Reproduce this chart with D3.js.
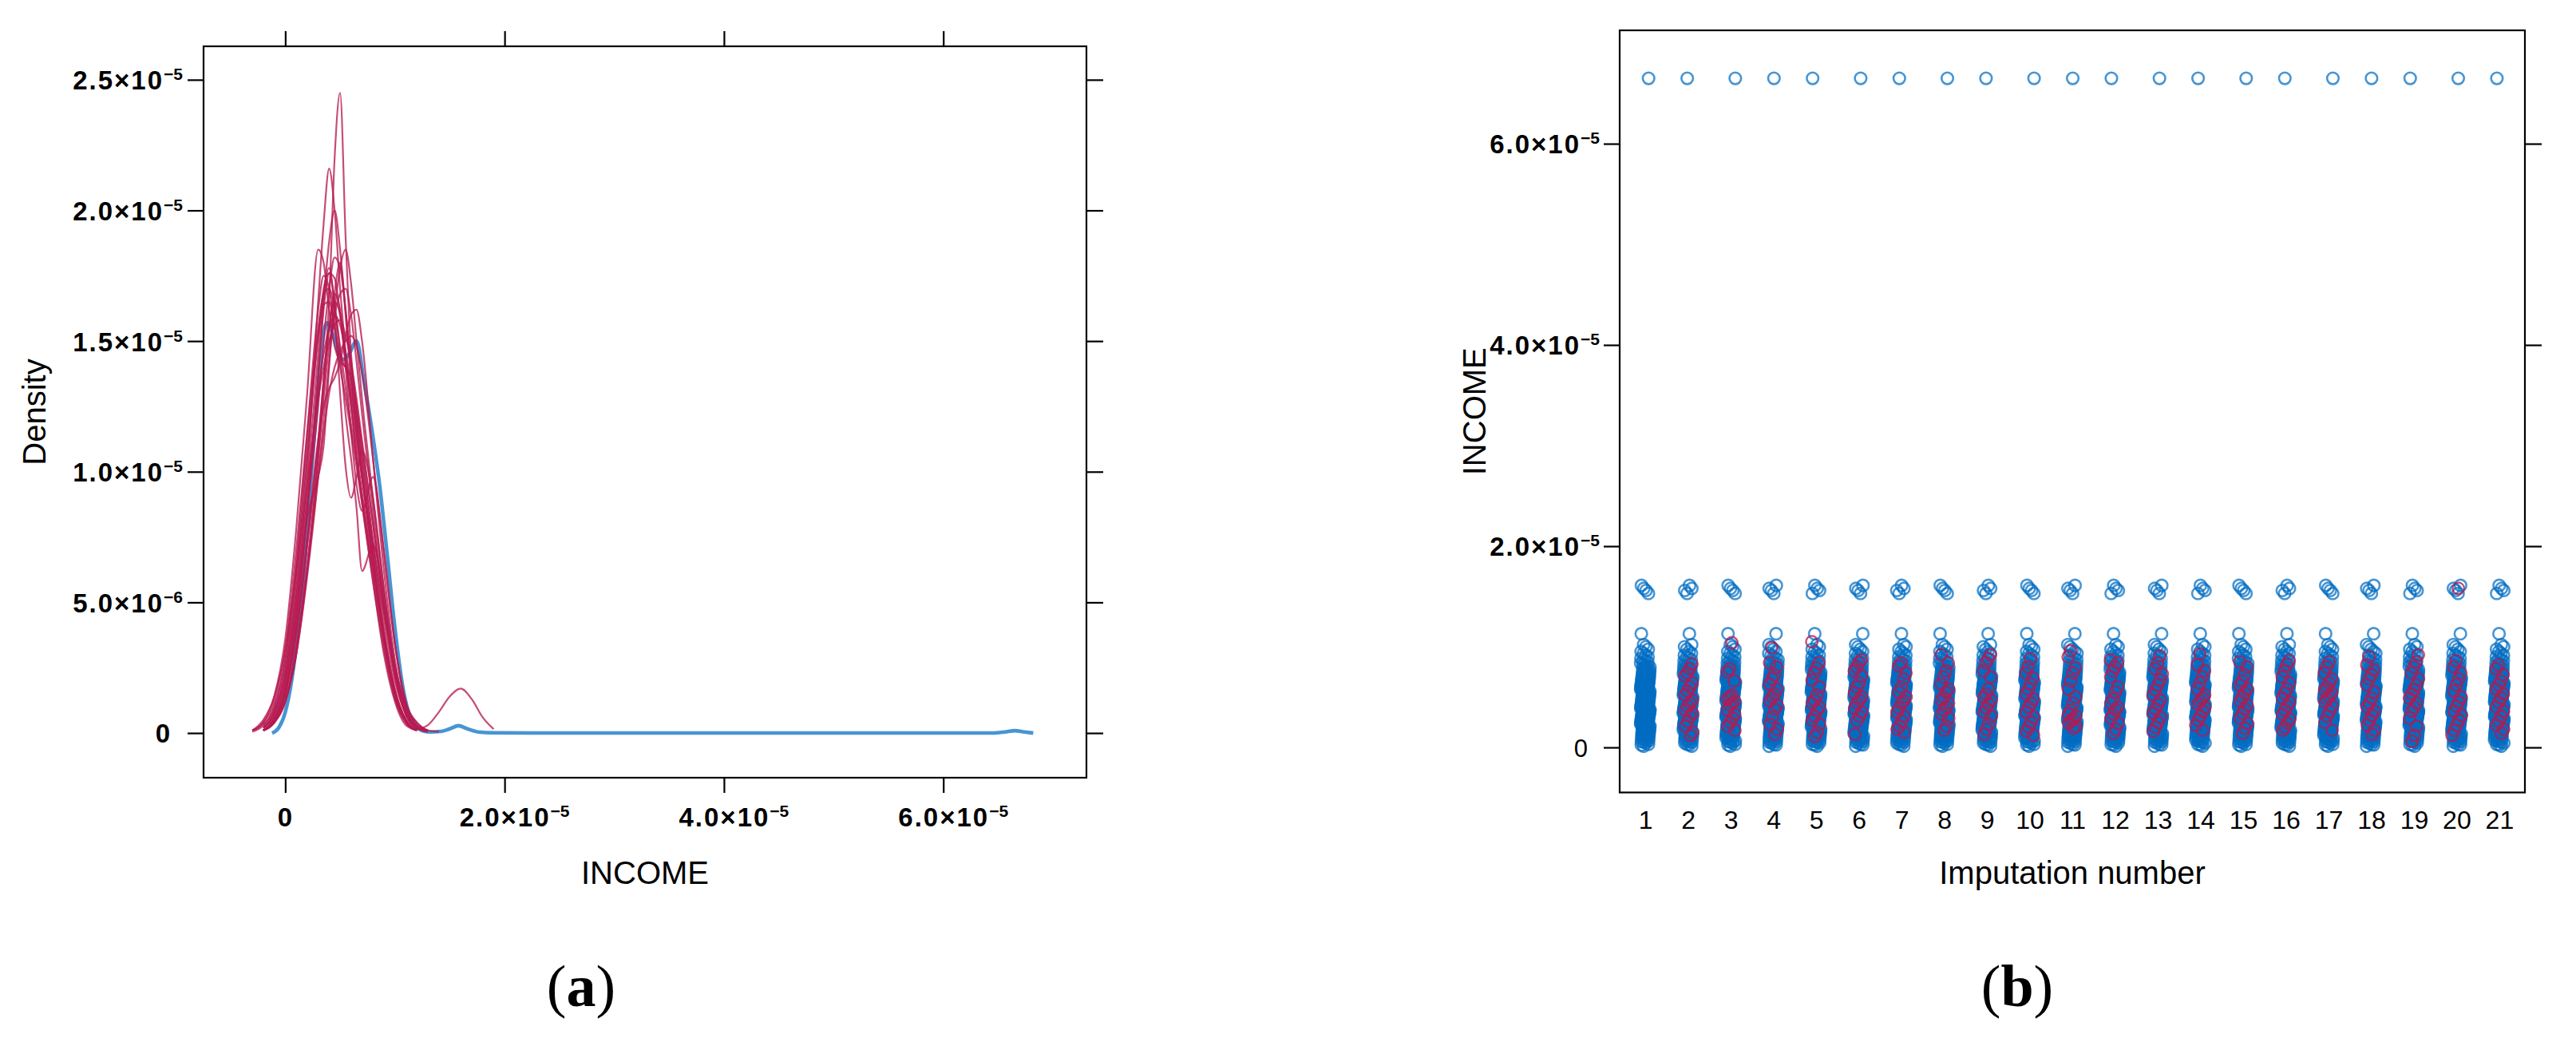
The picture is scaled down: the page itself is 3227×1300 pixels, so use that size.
<!DOCTYPE html>
<html>
<head>
<meta charset="utf-8">
<script src="https://cdn.jsdelivr.net/npm/d3@7"></script>
<style>
  body { margin: 0; background: #fff; }
  svg { display: block; }
</style>
</head>
<body>
<svg id="chart" width="3227" height="1300"></svg>
<script>
// ---- data (income in units of the axis labels) ----
var densTicks = [0, 0.5, 1, 1.5, 2, 2.5];
var densTickLabels = ['0', '5.0×10^−6', '1.0×10^−5', '1.5×10^−5', '2.0×10^−5', '2.5×10^−5'];
var incomeTicks = [0, 2, 4, 6];
var incomeTickLabels = ['0', '2.0×10^−5', '4.0×10^−5', '6.0×10^−5'];
var imputations = d3.range(1, 22);

// observed density, [income, density]
var obsDensity = [[-0.12,0],[-0.06,0.02],[0,0.08],[0.05,0.18],[0.1,0.33],[0.15,0.52],[0.2,0.78],
  [0.25,1.06],[0.3,1.32],[0.34,1.5],[0.38,1.57],[0.43,1.53],[0.48,1.46],[0.53,1.43],[0.58,1.45],
  [0.65,1.5],[0.72,1.34],[0.79,1.16],[0.86,0.95],[0.93,0.68],[1.0,0.4],[1.07,0.18],[1.14,0.06],
  [1.22,0.015],[1.32,0.004],[1.42,0.006],[1.5,0.016],[1.58,0.028],[1.66,0.016],[1.76,0.004],
  [1.9,0.001],[2.4,0],[6.45,0],[6.56,0.004],[6.65,0.009],[6.74,0.004],[6.82,0]];

// imputed densities on a shared income grid (null = curve not drawn there)
var densGrid = [-0.3,-0.2,-0.1,0,0.1,0.2,0.3,0.35,0.4,0.45,0.5,0.55,0.6,0.65,0.7,0.8,0.9,1.0,1.1,1.2,1.3,1.4,1.5,1.6,1.7,1.8,1.9];
var impDensity = [
  [null,0.01,0.05,0.15,0.38,0.72,1.10,1.35,1.65,2.20,2.45,1.90,1.45,1.25,1.10,0.80,0.48,0.22,0.07,0.02],
  [null,0.02,0.08,0.24,0.55,1.00,1.65,1.95,2.16,2.00,1.70,1.45,1.25,1.05,0.88,0.58,0.30,0.12,0.03,0.01],
  [null,0.01,0.06,0.18,0.45,0.85,1.35,1.65,1.88,2.00,1.85,1.60,1.35,1.15,0.98,0.66,0.36,0.14,0.04,0.01],
  [0.01,0.04,0.14,0.36,0.78,1.30,1.85,1.80,1.62,1.48,1.42,1.40,1.30,1.15,0.98,0.65,0.36,0.15,0.05,0.01],
  [null,0.01,0.04,0.12,0.30,0.60,0.98,1.20,1.42,1.62,1.78,1.85,1.72,1.50,1.28,0.90,0.55,0.26,0.09,0.02,0.005],
  [null,0.02,0.07,0.20,0.48,0.85,1.25,1.50,1.70,1.82,1.78,1.62,1.42,1.22,1.02,0.68,0.38,0.16,0.05,0.01],
  [null,0.01,0.05,0.16,0.40,0.75,1.12,1.25,1.32,1.36,1.42,1.52,1.60,1.62,1.50,1.05,0.62,0.28,0.09,0.02,0.005],
  [null,0.02,0.08,0.24,0.58,1.05,1.52,1.70,1.76,1.65,1.45,1.22,1.05,0.86,0.62,0.72,0.52,0.24,0.08,0.02],
  [null,0.01,0.06,0.20,0.50,0.95,1.45,1.68,1.78,1.62,1.30,1.02,0.90,0.98,1.08,0.90,0.55,0.24,0.07,0.02],
  [null,0.01,0.05,0.15,0.38,0.72,1.12,1.35,1.55,1.65,1.60,1.40,1.15,0.95,0.85,0.98,0.70,0.34,0.11,0.03,0.01],
  [0.01,0.04,0.12,0.32,0.70,1.15,1.55,1.68,1.70,1.62,1.48,1.32,1.18,1.05,0.90,0.62,0.36,0.16,0.05,0.015,0.03,0.08,0.14,0.17,0.13,0.06,0.015],
  [0.005,0.03,0.10,0.28,0.65,1.15,1.62,1.75,1.70,1.55,1.40,1.28,1.15,1.02,0.88,0.58,0.32,0.13,0.04,0.01],
  [null,0.01,0.04,0.13,0.33,0.65,1.05,1.28,1.48,1.60,1.68,1.70,1.60,1.42,1.22,0.85,0.50,0.22,0.07,0.02],
  [null,0.02,0.08,0.22,0.52,0.90,1.30,1.45,1.55,1.60,1.56,1.46,1.34,1.20,1.05,0.74,0.44,0.20,0.07,0.02],
  [null,0.01,0.05,0.17,0.44,0.86,1.38,1.62,1.76,1.74,1.60,1.42,1.25,1.08,0.92,0.62,0.34,0.14,0.04,0.01],
  [null,0.01,0.04,0.12,0.32,0.62,0.98,1.15,1.30,1.40,1.46,1.50,1.52,1.48,1.38,1.05,0.68,0.34,0.12,0.03,0.01],
  [null,0.03,0.10,0.28,0.62,1.08,1.52,1.64,1.65,1.55,1.45,1.40,1.36,1.25,1.08,0.72,0.40,0.17,0.05,0.01],
  [0.01,0.05,0.14,0.32,0.62,0.95,1.28,1.40,1.50,1.56,1.58,1.52,1.42,1.28,1.12,0.80,0.48,0.24,0.10,0.04,0.01,0.005],
  [null,0.01,0.05,0.15,0.42,0.82,0.98,1.10,1.40,1.68,1.80,1.62,1.38,1.18,1.00,0.68,0.38,0.16,0.05,0.01],
  [null,0.01,0.04,0.12,0.30,0.62,1.05,1.32,1.55,1.68,1.62,1.45,1.28,1.12,0.98,0.72,0.46,0.25,0.11,0.04,0.01]
];

// observed incomes (shown in every imputation column)
var obsIncome = [0.012,0.025,0.031,0.044,0.052,0.058,0.067,0.073,0.081,0.088,0.094,0.102,0.108,0.113,
  0.119,0.126,0.131,0.137,0.142,0.148,0.153,0.158,0.163,0.167,0.172,0.177,0.181,0.186,0.19,0.195,0.199,
  0.203,0.207,0.211,0.215,0.219,0.223,0.226,0.23,0.234,0.237,0.241,0.244,0.248,0.251,0.255,0.258,0.262,
  0.265,0.268,0.272,0.275,0.278,0.281,0.284,0.287,0.29,0.293,0.296,0.299,0.302,0.305,0.308,0.311,0.313,
  0.316,0.319,0.322,0.324,0.327,0.33,0.332,0.335,0.338,0.341,0.343,0.346,0.349,0.352,0.354,0.357,0.36,
  0.363,0.365,0.368,0.371,0.374,0.377,0.379,0.382,0.385,0.388,0.391,0.394,0.397,0.4,0.403,0.406,0.409,
  0.412,0.416,0.419,0.422,0.426,0.429,0.433,0.437,0.44,0.444,0.448,0.452,0.456,0.46,0.464,0.469,0.473,
  0.477,0.482,0.486,0.49,0.495,0.499,0.503,0.507,0.511,0.515,0.519,0.523,0.527,0.531,0.535,0.539,0.543,
  0.547,0.551,0.555,0.559,0.563,0.567,0.571,0.575,0.579,0.583,0.587,0.59,0.594,0.598,0.601,0.605,0.608,
  0.612,0.615,0.619,0.622,0.626,0.629,0.633,0.636,0.64,0.643,0.647,0.65,0.654,0.657,0.661,0.665,0.668,
  0.672,0.676,0.68,0.684,0.688,0.693,0.697,0.702,0.707,0.712,0.717,0.722,0.728,0.734,0.74,0.746,0.752,
  0.759,0.766,0.773,0.781,0.789,0.797,0.806,0.815,0.825,0.835,0.846,0.858,0.871,0.885,0.9,0.916,0.934,
  0.953,0.975,1.0,1.022,1.13,1.53,1.56,1.58,1.61,6.65];

// imputed incomes, imputations 2..21
var impIncome = [
  [0.83,0.78,0.74,0.71,0.64,0.60,0.56,0.52,0.47,0.44,0.41,0.37,0.34,0.31,0.26,0.21,0.15,0.12],
  [1.04,0.78,0.75,0.66,0.52,0.50,0.48,0.46,0.44,0.42,0.37,0.33,0.29,0.25,0.21,0.17],
  [0.99,0.84,0.80,0.72,0.68,0.63,0.58,0.53,0.50,0.46,0.42,0.38,0.30,0.23,0.18,0.13],
  [1.05,0.84,0.79,0.74,0.67,0.60,0.52,0.47,0.44,0.40,0.37,0.31,0.27,0.23,0.15,0.11],
  [0.87,0.84,0.80,0.76,0.71,0.64,0.60,0.54,0.50,0.47,0.44,0.39,0.35,0.31,0.26,0.13],
  [0.84,0.81,0.74,0.68,0.60,0.55,0.50,0.46,0.44,0.39,0.35,0.31,0.26,0.21,0.18,0.15],
  [0.92,0.84,0.76,0.70,0.63,0.58,0.55,0.50,0.47,0.44,0.40,0.37,0.33,0.29,0.21,0.17],
  [0.92,0.88,0.84,0.76,0.70,0.58,0.53,0.50,0.47,0.43,0.39,0.35,0.31,0.23,0.18,0.13],
  [0.88,0.80,0.74,0.69,0.63,0.58,0.53,0.48,0.44,0.40,0.35,0.30,0.25,0.20,0.16,0.12],
  [0.96,0.90,0.79,0.74,0.66,0.58,0.50,0.44,0.37,0.33,0.31,0.28,0.26,0.24,0.21,0.19],
  [0.87,0.84,0.80,0.76,0.70,0.60,0.55,0.48,0.44,0.40,0.37,0.33,0.29,0.24,0.18,0.14],
  [0.91,0.84,0.78,0.73,0.67,0.62,0.57,0.52,0.47,0.43,0.38,0.34,0.30,0.25,0.20,0.16],
  [0.93,0.82,0.76,0.70,0.64,0.58,0.52,0.49,0.46,0.43,0.40,0.36,0.31,0.27,0.22,0.17],
  [0.85,0.80,0.72,0.66,0.62,0.58,0.54,0.50,0.46,0.42,0.38,0.34,0.29,0.24,0.19,0.14],
  [0.86,0.82,0.76,0.70,0.64,0.58,0.54,0.49,0.45,0.41,0.37,0.33,0.28,0.24,0.20,0.17],
  [0.85,0.80,0.74,0.68,0.64,0.60,0.57,0.54,0.51,0.48,0.45,0.41,0.36,0.31,0.25,0.17],
  [0.90,0.82,0.77,0.72,0.68,0.62,0.55,0.49,0.44,0.40,0.36,0.32,0.27,0.22,0.17,0.13],
  [0.92,0.85,0.80,0.74,0.68,0.62,0.57,0.53,0.49,0.44,0.40,0.36,0.29,0.21,0.12,0.06],
  [1.58,0.86,0.80,0.74,0.68,0.62,0.56,0.50,0.45,0.41,0.36,0.32,0.27,0.22,0.17,0.12],
  [0.82,0.78,0.72,0.66,0.62,0.58,0.53,0.49,0.45,0.40,0.36,0.31,0.26,0.22,0.18,0.14]
];

// ---- style ----
var blue = 'rgba(0,108,194,0.72)',
  red = 'rgba(182,26,81,0.78)',
  sans = '"Liberation Sans", Arial, sans-serif',
  serif = '"Liberation Serif", "Times New Roman", serif';

var svg = d3.select('#chart');

// panel boxes
var pa = {x0: 255, x1: 1361, y0: 58, y1: 974};
var pb = {x0: 2029, x1: 3163, y0: 38, y1: 992.5};

var xA = d3.scaleLinear().domain([-0.745, 7.305]).range([pa.x0, pa.x1]);
var yA = d3.scaleLinear().domain([-0.171, 2.628]).range([pa.y1, pa.y0]);
var xB = d3.scaleLinear().domain([0.4, 21.6]).range([pb.x0, pb.x1]);
var yB = d3.scaleLinear().domain([-0.448, 7.127]).range([pb.y1, pb.y0]);

// write "2.0×10^−5" as base text plus superscript
function sciText(text, label, bold) {
  var parts = label.split('^');
  text.text(null)
    .style('font-family', sans)
    .style('font-weight', bold ? 'bold' : 'normal')
    .style('font-size', bold ? '33px' : '31px')
    .style('letter-spacing', bold ? '2px' : '0px')
    .attr('fill', '#000');
  text.append('tspan').attr('class', 'base').text(parts[0]);
  if (parts[1]) {
    text.append('tspan').attr('dy', -12).style('font-size', '21px').style('letter-spacing', '0px').text(parts[1]);
  }
}

function styleTicks(g) {
  g.select('.domain').remove();
  g.selectAll('.tick line').attr('stroke', '#000').attr('stroke-width', 2.2);
}

// ===== panel (a): density plot =====
var ga = svg.append('g');

ga.append('g')
  .attr('transform', 'translate(' + pa.x0 + ',0)')
  .call(d3.axisLeft(yA).tickValues(densTicks).tickSize(20))
  .call(styleTicks)
  .call(function(g) {
    g.selectAll('.tick text').each(function(d, i) {
      var t = d3.select(this);
      sciText(t, densTickLabels[i], true);
      t.attr('text-anchor', 'end').attr('dy', '0.36em')
        .attr('x', densTickLabels[i].indexOf('^') < 0 ? -40 : -26);
    });
  });

ga.append('g')
  .attr('transform', 'translate(' + pa.x1 + ',0)')
  .call(d3.axisRight(yA).tickValues(densTicks).tickSize(21).tickFormat(''))
  .call(styleTicks);

ga.append('g')
  .attr('transform', 'translate(0,' + pa.y0 + ')')
  .call(d3.axisTop(xA).tickValues(incomeTicks).tickSize(19).tickFormat(''))
  .call(styleTicks);

ga.append('g')
  .attr('transform', 'translate(0,' + pa.y1 + ')')
  .call(d3.axisBottom(xA).tickValues(incomeTicks).tickSize(19))
  .call(styleTicks)
  .call(function(g) {
    g.selectAll('.tick text').each(function(d, i) {
      var t = d3.select(this);
      sciText(t, incomeTickLabels[i], true);
      var w = t.select('.base').node().getComputedTextLength();
      t.attr('text-anchor', 'start').attr('y', 61).attr('dy', 0).attr('x', -w / 2);
    });
  });

var densLine = d3.line()
  .x(function(d) { return xA(d[0]); })
  .y(function(d) { return yA(d[1]); })
  .curve(d3.curveMonotoneX);

ga.append('path')
  .datum(obsDensity)
  .attr('d', densLine)
  .attr('fill', 'none')
  .attr('stroke', blue)
  .attr('stroke-width', 4.6)
  .attr('stroke-linejoin', 'round');

var impLine = d3.line()
  .defined(function(d) { return d[1] != null; })
  .x(function(d) { return xA(d[0]); })
  .y(function(d) { return yA(d[1]); })
  .curve(d3.curveMonotoneX);

ga.selectAll('.imp-dens')
  .data(impDensity)
  .enter()
  .append('path')
  .attr('class', 'imp-dens')
  .attr('d', function(vals) {
    return impLine(vals.map(function(v, i) { return [densGrid[i], v]; }));
  })
  .attr('fill', 'none')
  .attr('stroke', red)
  .attr('stroke-width', 2.2);

ga.append('rect')
  .attr('x', pa.x0).attr('y', pa.y0)
  .attr('width', pa.x1 - pa.x0).attr('height', pa.y1 - pa.y0)
  .attr('fill', 'none').attr('stroke', '#000').attr('stroke-width', 2.2);

ga.append('text')
  .attr('x', (pa.x0 + pa.x1) / 2).attr('y', 1107)
  .attr('text-anchor', 'middle')
  .style('font-family', sans).style('font-size', '40px')
  .text('INCOME');

ga.append('text')
  .attr('transform', 'translate(57,' + ((pa.y0 + pa.y1) / 2) + ') rotate(-90)')
  .attr('text-anchor', 'middle')
  .style('font-family', sans).style('font-size', '40px')
  .text('Density');

// ===== panel (b): strip plot =====
var gb = svg.append('g');

gb.append('g')
  .attr('transform', 'translate(' + pb.x0 + ',0)')
  .call(d3.axisLeft(yB).tickValues(incomeTicks).tickSize(20))
  .call(styleTicks)
  .call(function(g) {
    g.selectAll('.tick text').each(function(d, i) {
      var t = d3.select(this);
      var plain = incomeTickLabels[i].indexOf('^') < 0;
      sciText(t, incomeTickLabels[i], !plain);
      t.attr('text-anchor', 'end').attr('dy', '0.36em').attr('x', plain ? -40 : -25);
    });
  });

gb.append('g')
  .attr('transform', 'translate(' + pb.x1 + ',0)')
  .call(d3.axisRight(yB).tickValues(incomeTicks).tickSize(21).tickFormat(''))
  .call(styleTicks);

gb.append('g')
  .attr('transform', 'translate(0,' + pb.y1 + ')')
  .call(d3.axisBottom(xB).tickValues(imputations).tickSize(0))
  .call(styleTicks)
  .call(function(g) {
    g.selectAll('.tick text')
      .attr('y', 45).attr('dy', 0)
      .style('font-family', sans).style('font-size', '32px').attr('fill', '#000');
  });

// lattice-style horizontal jitter (low-discrepancy, not random)
function jit(i, c) {
  var t = ((i + 1) * 0.7548776662 + c * 0.5698402910) % 1;
  return (t - 0.5) * 0.22;
}

var obsPts = [];
imputations.forEach(function(k) {
  obsIncome.forEach(function(v, i) { obsPts.push({k: k + jit(i, k), v: v}); });
});
var impPts = [];
impIncome.forEach(function(vals, j) {
  var k = j + 2;
  vals.forEach(function(v, i) { impPts.push({k: k + jit(i + 50, k * 3), v: v}); });
});

gb.selectAll('.obs-pt')
  .data(obsPts)
  .enter()
  .append('circle')
  .attr('class', 'obs-pt')
  .attr('cx', function(d) { return xB(d.k); })
  .attr('cy', function(d) { return yB(d.v); })
  .attr('r', 7.3)
  .attr('fill', 'none')
  .attr('stroke', blue)
  .attr('stroke-width', 2.6);

gb.selectAll('.imp-pt')
  .data(impPts)
  .enter()
  .append('circle')
  .attr('class', 'imp-pt')
  .attr('cx', function(d) { return xB(d.k); })
  .attr('cy', function(d) { return yB(d.v); })
  .attr('r', 7.3)
  .attr('fill', 'none')
  .attr('stroke', red)
  .attr('stroke-width', 2.3);

gb.append('rect')
  .attr('x', pb.x0).attr('y', pb.y0)
  .attr('width', pb.x1 - pb.x0).attr('height', pb.y1 - pb.y0)
  .attr('fill', 'none').attr('stroke', '#000').attr('stroke-width', 2.2);

gb.append('text')
  .attr('x', (pb.x0 + pb.x1) / 2).attr('y', 1107)
  .attr('text-anchor', 'middle')
  .style('font-family', sans).style('font-size', '40px')
  .text('Imputation number');

gb.append('text')
  .attr('transform', 'translate(1861,' + ((pb.y0 + pb.y1) / 2) + ') rotate(-90)')
  .attr('text-anchor', 'middle')
  .style('font-family', sans).style('font-size', '40px')
  .text('INCOME');

// ===== sub-figure captions =====
[['a', 728], ['b', 2527]].forEach(function(c) {
  var t = svg.append('text')
    .attr('x', c[1]).attr('y', 1260)
    .attr('text-anchor', 'middle')
    .style('font-family', serif).style('font-size', '74px');
  t.append('tspan').text('(');
  t.append('tspan').style('font-weight', 'bold').text(c[0]);
  t.append('tspan').text(')');
});
</script>
</body>
</html>
